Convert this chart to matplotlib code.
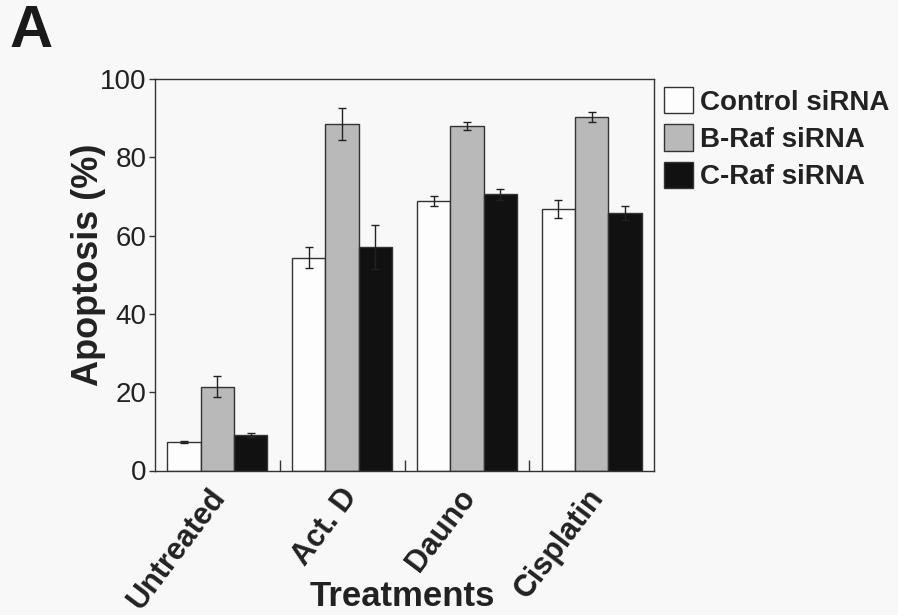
import matplotlib
matplotlib.use("Agg")
import matplotlib.pyplot as plt
import matplotlib.transforms as mtransforms
import numpy as np

plt.rcParams['font.family'] = ['Liberation Sans', 'DejaVu Sans']

categories = ["Untreated", "Act. D", "Dauno", "Cisplatin"]
series_names = ["Control siRNA", "B-Raf siRNA", "C-Raf siRNA"]
control_vals = [7.3, 54.4, 68.9, 66.8]
control_err = [0.3, 2.6, 1.3, 2.4]
braf_vals = [21.4, 88.6, 87.9, 90.2]
braf_err = [2.7, 4.1, 1.0, 1.3]
craf_vals = [9.1, 57.1, 70.5, 65.8]
craf_err = [0.6, 5.7, 1.4, 1.7]

# horizontal nudges (pixels) of the hand-placed category labels
label_dx = [-10, -2, -9, -6]

colors = ["#fdfdfd", "#b9b9b9", "#111111"]
bg = "#f8f8f8"

fig = plt.figure(figsize=(8.98, 6.15), dpi=100, facecolor=bg)
ax = fig.add_axes([155/898, 1-470.5/615, (654-155)/898, (470.5-79)/615])
ax.set_facecolor(bg)

x = np.arange(len(categories))
w = 0.267
vals = [control_vals, braf_vals, craf_vals]
errs = [control_err, braf_err, craf_err]
for i, (v, e, c, n) in enumerate(zip(vals, errs, colors, series_names)):
    ax.bar(x + (i - 1) * w, v, width=w, color=c, edgecolor="#333333", linewidth=1.0,
           yerr=e, capsize=3, error_kw=dict(ecolor="#222222", elinewidth=1.0, capthick=1.0),
           label=n, zorder=2)

ax.set_xlim(-0.5, 3.5)
ax.set_ylim(0, 100)
ax.set_yticks([0, 20, 40, 60, 80, 100])
ax.tick_params(axis='y', direction='out', length=4, width=1, labelsize=20, pad=2, color="#333333")
ax.set_xticks(x)
ax.set_xticklabels(categories, rotation=53, ha='right', va='top', rotation_mode='anchor',
                   fontsize=22, fontweight='bold', color="#222222")
ax.tick_params(axis='x', which='major', length=0, pad=9)
for lbl, dx in zip(ax.get_xticklabels(), label_dx):
    lbl.set_transform(lbl.get_transform() + mtransforms.Affine2D().translate(dx, 0))
ax.set_xticks([0.5, 1.5, 2.5], minor=True)
ax.tick_params(axis='x', which='minor', direction='in', length=8, width=1, color="#333333")
for s in ax.spines.values():
    s.set_linewidth(1.0)
    s.set_color("#333333")

ax.set_ylabel("Apoptosis (%)", fontsize=26, fontweight='bold', color="#222222")
ax.yaxis.set_label_coords(-0.098, 0.525)
ax.set_xlabel("Treatments", fontsize=25, fontweight='bold', color="#222222")
ax.xaxis.set_label_coords(0.495, -0.28)
for t in ax.get_yticklabels():
    t.set_color("#222222")

leg = ax.legend(loc='upper left', bbox_to_anchor=(664/898, 1-87/615), bbox_transform=fig.transFigure,
                frameon=False, prop=dict(weight='bold', size=20),
                handlelength=1.04, handleheight=1.08, handletextpad=0.25,
                labelspacing=0.316, borderpad=0, borderaxespad=0)
for t in leg.get_texts():
    t.set_color("#222222")

fig.text(10/898, 1-4/615, "A", fontsize=43, fontweight='bold', va='top', ha='left', color="#1a1a1a")

fig.savefig("out.png", dpi=100, facecolor=bg)
